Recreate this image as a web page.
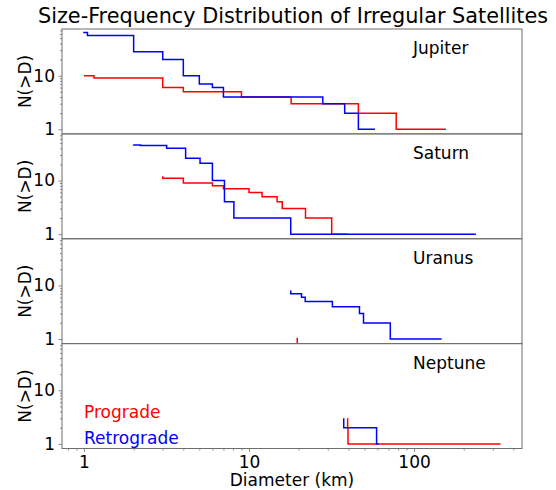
<!DOCTYPE html>
<html>
<head>
<meta charset="utf-8">
<script src="https://cdn.jsdelivr.net/npm/d3@7"></script>
<style>
  body { margin: 0; background: #fff; }
  svg { display: block; }
</style>
</head>
<body>
<div id="chart"></div>
<script>
/* =========================================
   Size-Frequency Distribution of Irregular Satellites
   Cumulative N(>D) steps, one panel per planet
   ========================================= */

const planets = ['Jupiter', 'Saturn', 'Uranus', 'Neptune'];

// Diameter (km) and cumulative count
const jupiterProD = [1.0, 1.15, 3.0, 4.0, 9.0, 18, 46, 78, 156];
const jupiterProN = [10, 10, 9, 6, 5, 4, 3, 2, 1];
const jupiterRetD = [1.0, 1.05, 2.0, 3.0, 4.0, 5.0, 6.0, 7.0, 28, 38, 46, 58];
const jupiterRetN = [66, 64, 56, 28, 20, 10, 7, 6, 4, 3, 2, 1];

const saturnProD = [3.0, 4.0, 6.0, 7.0, 10, 12, 14.8, 15.9, 22, 31.7, 40];
const saturnProN = [12, 11, 9, 8, 7, 6, 5, 4, 3, 2, 1];
const saturnRetD = [2.0, 2.2, 3.17, 4.13, 5.05, 6.0, 7.1, 8.1, 17.9, 237];
const saturnRetN = [47, 46, 45, 40, 26, 21, 10, 4, 2, 1];

const uranusProD = [19.6, 19.8];
const uranusProN = [1.05, 0.6];
const uranusRetD = [17.9, 20.8, 21.9, 32, 46.7, 49.4, 71.8, 147];
const uranusRetN = [8, 7, 6, 5, 4, 3, 2, 1];

const neptuneProD = [39.6, 39.8, 334];
const neptuneProN = [3, 2, 1];
const neptuneRetD = [37.5, 59.3, 61];
const neptuneRetN = [3, 2, 1];

const proD = [jupiterProD, saturnProD, uranusProD, neptuneProD];
const proN = [jupiterProN, saturnProN, uranusProN, neptuneProN];
const retD = [jupiterRetD, saturnRetD, uranusRetD, neptuneRetD];
const retN = [jupiterRetN, saturnRetN, uranusRetN, neptuneRetN];

const xTicks = [1, 10, 100];
const yTicks = [1, 10];
const legendLabels = ['Prograde', 'Retrograde'];

const d3w = window.d3;

// ---- Layout ----
const width = 556, height = 490;
const margin = { top: 29, right: 34, bottom: 41.5, left: 62 };
const innerW = width - margin.left - margin.right;
const innerH = height - margin.top - margin.bottom;
const panelH = innerH / planets.length;

const RED = '#ff0000';
const BLUE = '#0000ff';
const SPINE = '#6e6e6e';
const FONT = "'DejaVu Sans', sans-serif";
const FS = '17px';

const svg = d3w.select('#chart').append('svg')
  .attr('width', width).attr('height', height)
  .attr('font-family', FONT);

const x = d3w.scaleLog()
  .domain([0.736, 451])
  .range([margin.left, margin.left + innerW]);

// minor tick values for log axes
const xMinor = [];
for (let dec = 0.1; dec <= 100; dec *= 10) {
  for (let k = 2; k <= 9; k++) {
    const v = +(k * dec).toPrecision(2);
    if (v > x.domain()[0] && v < x.domain()[1]) xMinor.push(v);
  }
}
const yMinor = [2, 3, 4, 5, 6, 7, 8, 9, 20, 30, 40, 50, 60, 70];

const defs = svg.append('defs');

planets.forEach((name, i) => {
  const top = margin.top + i * panelH;
  const bottom = top + panelH;

  const y = d3w.scaleLog()
    .domain([0.82, 74.3])
    .range([bottom, top]);

  defs.append('clipPath').attr('id', `clip${i}`)
    .append('rect')
    .attr('x', margin.left).attr('y', top)
    .attr('width', innerW).attr('height', panelH);

  const g = svg.append('g');

  // ---- Y axis (major + minor) ----
  g.append('g')
    .attr('transform', `translate(${margin.left},0)`)
    .call(d3w.axisLeft(y).tickValues(yMinor).tickSize(2).tickFormat(''))
    .call(a => a.select('.domain').remove())
    .call(a => a.selectAll('line').attr('stroke', SPINE).attr('stroke-width', 0.8));

  g.append('g')
    .attr('transform', `translate(${margin.left},0)`)
    .call(d3w.axisLeft(y).tickValues(yTicks).tickSize(3.5).tickPadding(3.5).tickFormat(d3w.format('d')))
    .call(a => a.select('.domain').remove())
    .call(a => a.selectAll('line').attr('stroke', SPINE).attr('stroke-width', 0.8))
    .call(a => a.selectAll('text')
      .attr('font-family', FONT).attr('font-size', FS).attr('fill', '#000'));

  // y label
  g.append('text')
    .attr('transform', `translate(25,${(top + bottom) / 2}) rotate(-90)`)
    .attr('text-anchor', 'middle')
    .attr('dominant-baseline', 'central')
    .attr('font-size', FS)
    .attr('fill', '#000')
    .text('N(>D)');

  // ---- Step curves ----
  const line = d3w.line()
    .x(d => x(d[0]))
    .y(d => y(d[1]))
    .curve(d3w.curveStepBefore);

  const plot = g.append('g').attr('clip-path', `url(#clip${i})`);

  plot.append('path')
    .datum(proD[i].map((d, k) => [d, proN[i][k]]))
    .attr('d', line)
    .attr('fill', 'none')
    .attr('stroke', RED)
    .attr('stroke-width', 1.5);

  plot.append('path')
    .datum(retD[i].map((d, k) => [d, retN[i][k]]))
    .attr('d', line)
    .attr('fill', 'none')
    .attr('stroke', BLUE)
    .attr('stroke-width', 1.5);

  // planet name
  g.append('text')
    .attr('x', 413).attr('y', top + 25)
    .attr('font-size', FS)
    .attr('fill', '#000')
    .text(name);

  // frame
  g.append('rect')
    .attr('x', margin.left).attr('y', top)
    .attr('width', innerW).attr('height', panelH)
    .attr('fill', 'none')
    .attr('stroke', SPINE)
    .attr('stroke-width', 1);
});

// ---- X axis (bottom panel only) ----
const xAxisY = margin.top + innerH;

svg.append('g')
  .attr('transform', `translate(0,${xAxisY})`)
  .call(d3w.axisBottom(x).tickValues(xMinor).tickSize(2).tickFormat(''))
  .call(a => a.select('.domain').remove())
  .call(a => a.selectAll('line').attr('stroke', SPINE).attr('stroke-width', 0.8));

svg.append('g')
  .attr('transform', `translate(0,${xAxisY})`)
  .call(d3w.axisBottom(x).tickValues(xTicks).tickSize(3.5).tickPadding(3.5).tickFormat(d3w.format('d')))
  .call(a => a.select('.domain').remove())
  .call(a => a.selectAll('line').attr('stroke', SPINE).attr('stroke-width', 0.8))
  .call(a => a.selectAll('text')
    .attr('font-family', FONT).attr('font-size', FS).attr('fill', '#000'));

svg.append('text')
  .attr('x', margin.left + innerW / 2).attr('y', 486)
  .attr('text-anchor', 'middle')
  .attr('font-size', FS)
  .attr('fill', '#000')
  .text('Diameter (km)');

// ---- Title ----
svg.append('text')
  .attr('x', 293).attr('y', 23)
  .attr('text-anchor', 'middle')
  .attr('font-size', '20.8px')
  .attr('fill', '#000')
  .text('Size-Frequency Distribution of Irregular Satellites');

// ---- Legend (text only, in bottom panel) ----
svg.append('text')
  .attr('x', 84).attr('y', 418)
  .attr('font-size', FS)
  .attr('fill', RED)
  .text(legendLabels[0]);

svg.append('text')
  .attr('x', 84).attr('y', 444)
  .attr('font-size', FS)
  .attr('fill', BLUE)
  .text(legendLabels[1]);
</script>
</body>
</html>
